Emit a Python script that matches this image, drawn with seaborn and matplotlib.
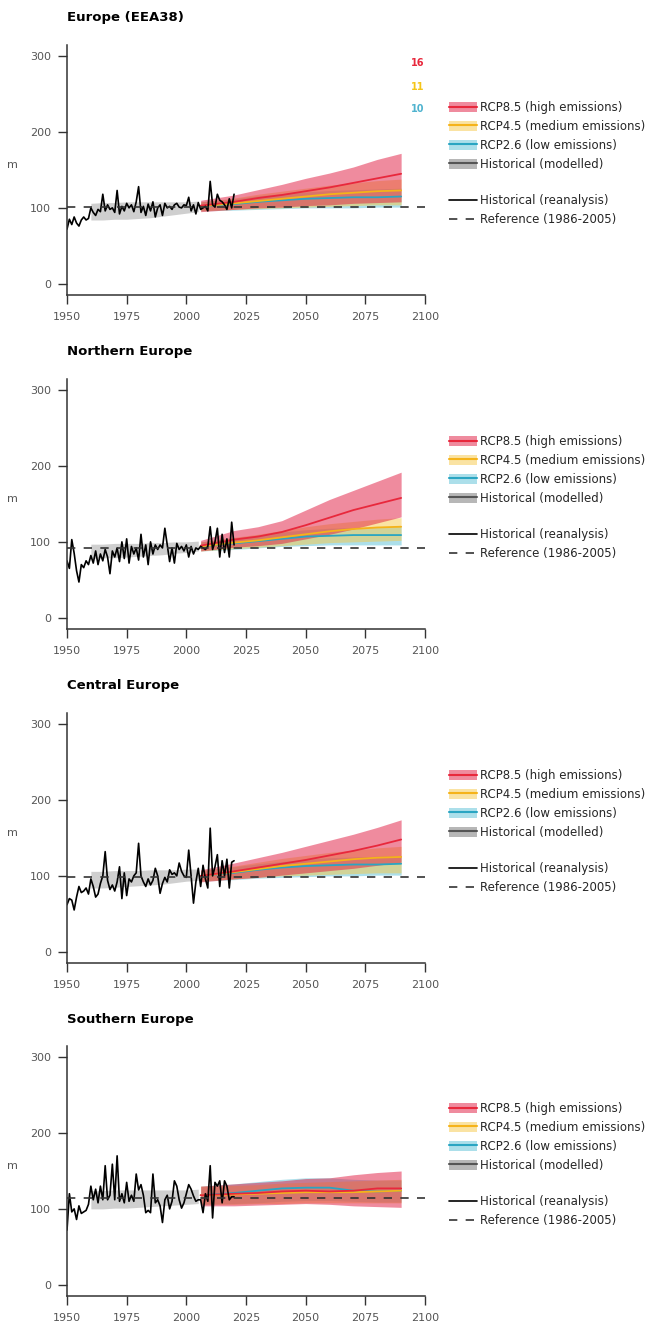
import numpy as np
import pandas as pd
import matplotlib
matplotlib.use("Agg")
import matplotlib.pyplot as plt
import seaborn as sns
from matplotlib.patches import Patch
from matplotlib.lines import Line2D

# ==============================
# DATA
# ==============================

REGIONS = ["Europe (EEA38)", "Northern Europe", "Central Europe", "Southern Europe"]

reanalysis_years = list(range(1950, 2021))

reanalysis_europe = [72, 85, 78, 88, 80, 76, 84, 88, 84, 86,
                     100, 94, 90, 98, 95, 118, 96, 104, 98, 100,
                     94, 123, 92, 102, 96, 106, 100, 104, 95, 108,
                     128, 94, 102, 90, 105, 96, 108, 88, 100, 104,
                     90, 106, 100, 102, 98, 104, 106, 101, 100, 104,
                     103, 114, 96, 104, 92, 107, 98, 100, 102, 96,
                     135, 104, 101, 118, 110, 108, 104, 98, 112, 100, 118]
reanalysis_north = [75, 65, 103, 85, 62, 47, 70, 66, 75, 70,
                    82, 72, 88, 70, 84, 75, 90, 80, 58, 88,
                    80, 92, 74, 100, 78, 104, 72, 94, 84, 92,
                    76, 110, 80, 96, 70, 100, 84, 96, 90, 96,
                    92, 118, 96, 74, 92, 72, 98, 90, 94, 88,
                    96, 80, 94, 84, 92, 90, 94, 92, 90, 94,
                    120, 90, 100, 118, 80, 110, 86, 104, 80, 126, 96]
reanalysis_central = [62, 70, 68, 55, 72, 86, 78, 80, 84, 76,
                      96, 86, 72, 76, 90, 100, 132, 94, 82, 88,
                      80, 92, 112, 70, 104, 74, 96, 92, 100, 104,
                      143, 100, 92, 86, 96, 88, 94, 110, 100, 77,
                      90, 98, 92, 108, 102, 104, 100, 117, 106, 100,
                      98, 134, 100, 64, 92, 110, 86, 114, 96, 84,
                      163, 100, 112, 128, 86, 120, 100, 122, 84, 118, 120]
reanalysis_south = [72, 120, 96, 100, 86, 104, 94, 96, 98, 106,
                    130, 112, 126, 108, 130, 112, 157, 112, 118, 159,
                    112, 170, 110, 120, 108, 135, 110, 118, 110, 146,
                    125, 132, 118, 95, 98, 95, 146, 108, 112, 104,
                    82, 112, 118, 100, 110, 137, 130, 112, 101, 108,
                    120, 132, 126, 117, 110, 112, 112, 95, 120, 110,
                    157, 88, 135, 130, 137, 108, 137, 130, 112, 116, 116]

reference = [101, 92, 99, 115]

hist_years = [1960, 1965, 1970, 1975, 1980, 1985, 1990, 1995, 2000, 2005]
hist_lo = [
    [84, 84, 85, 85, 86, 87, 89, 91, 93, 95],
    [78, 79, 79, 80, 81, 82, 83, 85, 86, 88],
    [84, 84, 85, 86, 87, 88, 89, 91, 93, 94],
    [100, 100, 101, 101, 102, 103, 104, 105, 106, 107],
]
hist_hi = [
    [106, 107, 107, 108, 108, 108, 108, 108, 108, 109],
    [97, 97, 98, 98, 98, 99, 99, 100, 100, 101],
    [106, 106, 107, 107, 107, 108, 108, 108, 109, 109],
    [124, 124, 125, 125, 125, 125, 125, 125, 125, 126],
]

proj_years = [2006, 2020, 2030, 2040, 2050, 2060, 2070, 2080, 2090]

rcp85_mid = [
    [103, 108, 113, 117, 122, 127, 133, 139, 145],
    [95, 103, 107, 113, 122, 132, 142, 150, 158],
    [100, 106, 111, 116, 121, 127, 133, 140, 148],
    [118, 120, 121, 123, 124, 123, 124, 127, 127],
]
rcp85_lo = [
    [95, 98, 100, 101, 103, 104, 106, 107, 108],
    [88, 93, 95, 98, 104, 110, 117, 125, 133],
    [92, 96, 98, 101, 104, 107, 110, 114, 118],
    [104, 104, 105, 106, 107, 106, 104, 103, 102],
]
rcp85_hi = [
    [110, 117, 124, 131, 139, 146, 154, 164, 172],
    [102, 115, 120, 128, 142, 156, 168, 180, 192],
    [108, 117, 124, 131, 139, 147, 155, 164, 174],
    [130, 133, 135, 137, 140, 141, 145, 148, 150],
]
rcp45_mid = [
    [102, 106, 109, 112, 115, 118, 120, 122, 123],
    [94, 99, 102, 106, 110, 114, 117, 119, 120],
    [100, 105, 109, 113, 116, 119, 122, 124, 125],
    [118, 119, 120, 121, 122, 122, 122, 123, 124],
]
rcp45_lo = [
    [96, 98, 99, 100, 101, 102, 103, 104, 104],
    [88, 91, 93, 95, 97, 99, 100, 101, 102],
    [93, 96, 98, 100, 101, 102, 103, 104, 104],
    [106, 106, 107, 107, 108, 108, 108, 108, 108],
]
rcp45_hi = [
    [108, 113, 118, 122, 126, 130, 133, 136, 138],
    [100, 106, 110, 115, 120, 124, 127, 130, 132],
    [107, 113, 118, 123, 127, 131, 134, 137, 139],
    [130, 131, 132, 134, 135, 136, 137, 138, 139],
]
rcp26_mid = [
    [102, 105, 108, 110, 112, 113, 114, 114, 115],
    [94, 98, 101, 104, 107, 108, 109, 109, 109],
    [100, 104, 108, 111, 113, 114, 115, 115, 116],
    [118, 121, 124, 127, 128, 128, 124, 123, 124],
]
rcp26_lo = [
    [96, 97, 98, 99, 100, 100, 100, 101, 101],
    [88, 90, 92, 94, 95, 96, 96, 96, 96],
    [93, 95, 97, 98, 99, 100, 100, 101, 101],
    [106, 107, 108, 110, 111, 111, 110, 109, 109],
]
rcp26_hi = [
    [108, 112, 116, 119, 121, 123, 124, 125, 126],
    [100, 105, 109, 113, 116, 118, 119, 120, 121],
    [107, 112, 116, 119, 122, 124, 125, 126, 127],
    [130, 133, 136, 139, 141, 141, 139, 138, 138],
]

model_counts = ["16", "11", "10"]

# ==============================
# STYLE
# ==============================

RED_FILL, RED_LINE = "#e0183f", "#e8283c"
YEL_FILL, YEL_LINE = "#f7c948", "#f5b31a"
BLU_FILL, BLU_LINE = "#5bc0d6", "#2aa5c2"
GRY_FILL, GRY_LINE = "#888888", "#555555"
BAND_ALPHA = 0.5

sns.set_theme(style="ticks")
plt.rcParams["font.family"] = ["DejaVu Sans"]

W, H = 651, 1331
fig = plt.figure(figsize=(W / 100, H / 100), dpi=100)
fig.patch.set_facecolor("white")

panel_tops = [45, 379, 713, 1046]
AX_LEFT, AX_W, AX_H = 67, 358, 250

reanalysis = [reanalysis_europe, reanalysis_north, reanalysis_central, reanalysis_south]

for i, region in enumerate(REGIONS):
    top = panel_tops[i]
    ax = fig.add_axes([AX_LEFT / W, 1 - (top + AX_H) / H, AX_W / W, AX_H / H])
    ax.set_facecolor("white")

    # historical modelled band
    ax.fill_between(hist_years, hist_lo[i], hist_hi[i], color=GRY_FILL, alpha=0.4, lw=0)

    # projections
    bands = [
        (rcp26_lo[i], rcp26_hi[i], rcp26_mid[i], BLU_FILL, BLU_LINE),
        (rcp45_lo[i], rcp45_hi[i], rcp45_mid[i], YEL_FILL, YEL_LINE),
        (rcp85_lo[i], rcp85_hi[i], rcp85_mid[i], RED_FILL, RED_LINE),
    ]
    for lo, hi, mid, fc, lc in bands:
        ax.fill_between(proj_years, lo, hi, color=fc, alpha=BAND_ALPHA, lw=0)
    for lo, hi, mid, fc, lc in bands:
        df = pd.DataFrame({"year": proj_years, "value": mid})
        sns.lineplot(data=df, x="year", y="value", ax=ax, color=lc, lw=1.3)

    # reanalysis
    df = pd.DataFrame({"year": reanalysis_years, "value": reanalysis[i]})
    sns.lineplot(data=df, x="year", y="value", ax=ax, color="black", lw=1.2)

    # reference level
    ax.axhline(reference[i], color="#333333", lw=1.2, dashes=(5, 5), zorder=5)

    ax.set_xlim(1950, 2100)
    ax.set_ylim(-15, 315)
    ax.set_xticks([1950, 1975, 2000, 2025, 2050, 2075, 2100])
    ax.set_yticks([0, 100, 200, 300])
    ax.set_xlabel("")
    ax.set_ylabel("m", rotation=0, fontsize=8, color="#555555")
    ax.yaxis.set_label_coords(-55 / AX_W, 0.5)
    sns.despine(ax=ax)
    for s in ["left", "bottom"]:
        ax.spines[s].set_color("#333333")
        ax.spines[s].set_linewidth(1.1)
    ax.tick_params(axis="both", length=6.5, width=1.0, color="#333333",
                   labelcolor="#555555", labelsize=8)
    ax.tick_params(axis="x", pad=6)
    ax.tick_params(axis="y", pad=5)

    fig.text(AX_LEFT / W, 1 - (top - 27) / H, region, fontsize=9.5,
             fontweight="bold", color="black", va="center", ha="left")

    if i == 0:
        for txt, yv, c in zip(model_counts, [291, 260, 230], [RED_LINE, "#f5c518", "#4fb3cf"]):
            ax.text(2097, yv, txt, color=c, fontsize=7, fontweight="bold",
                    ha="center", va="center")

    # legends
    patch_handles = [
        (Patch(facecolor=RED_FILL, alpha=BAND_ALPHA, lw=0), Line2D([], [], color=RED_LINE, lw=1.5)),
        (Patch(facecolor=YEL_FILL, alpha=BAND_ALPHA, lw=0), Line2D([], [], color=YEL_LINE, lw=1.5)),
        (Patch(facecolor=BLU_FILL, alpha=BAND_ALPHA, lw=0), Line2D([], [], color=BLU_LINE, lw=1.5)),
        (Patch(facecolor=GRY_FILL, alpha=0.6, lw=0), Line2D([], [], color=GRY_LINE, lw=1.5)),
    ]
    patch_labels = ["RCP8.5 (high emissions)", "RCP4.5 (medium emissions)",
                    "RCP2.6 (low emissions)", "Historical (modelled)"]
    leg1 = ax.legend(patch_handles, patch_labels, loc="upper left",
                     bbox_to_anchor=(449 / W, 1 - (top + 56) / H),
                     bbox_transform=fig.transFigure, frameon=False,
                     fontsize=8.5, borderpad=0, borderaxespad=0,
                     handlelength=2.4, handleheight=0.9, handletextpad=0.2,
                     labelspacing=0.5)
    ax.add_artist(leg1)
    line_handles = [
        Line2D([], [], color="black", lw=1.2),
        Line2D([], [], color="#333333", lw=1.2, dashes=(5, 5)),
    ]
    ax.legend(line_handles, ["Historical (reanalysis)", "Reference (1986-2005)"],
              loc="upper left", bbox_to_anchor=(449 / W, 1 - (top + 149) / H),
              bbox_transform=fig.transFigure, frameon=False,
              fontsize=8.5, borderpad=0, borderaxespad=0,
              handlelength=2.4, handletextpad=0.2, labelspacing=0.5)

fig.savefig("out.png", dpi=100, facecolor="white")
